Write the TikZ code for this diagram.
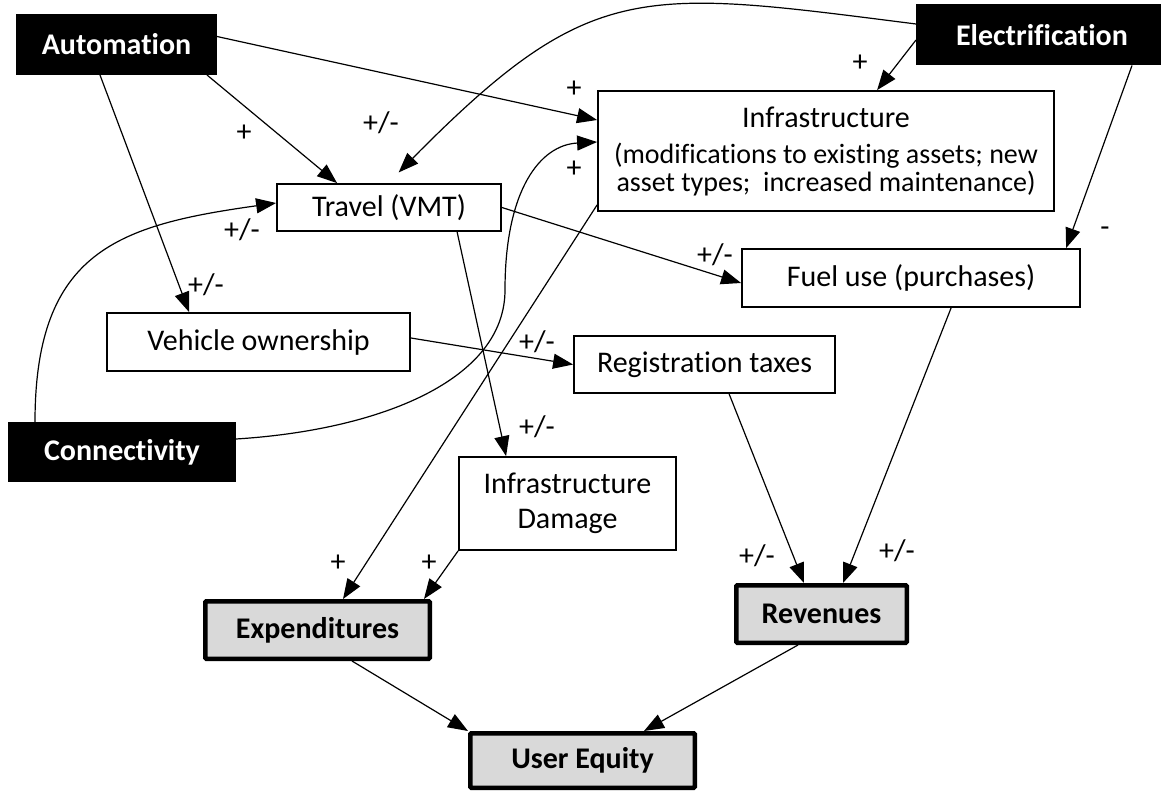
\documentclass[tikz,border=0pt]{standalone}
\usepackage{fontspec}
\setmainfont[Ligatures=NoCommon]{Carlito}
\usetikzlibrary{arrows.meta}
\definecolor{boxgray}{HTML}{D9D9D9}
\begin{document}
\begin{tikzpicture}[x=1pt,y=-1pt,
  every node/.style={inner sep=0pt, outer sep=0pt, font=\fontsize{30}{32}\selectfont},
  driver/.style={fill=black, text=white, font=\fontsize{30}{32}\selectfont\bfseries},
  var/.style={draw=black, line width=1.8pt, fill=white, align=center, outer sep=0.9pt},
  outcome/.style={draw=black, line width=4.5pt, fill=boxgray, rounded corners=1pt, outer sep=2.25pt, font=\fontsize{30}{32}\selectfont\bfseries},
  link/.style={line width=1.2pt, -{Triangle[length=20pt,width=15pt]}},
  lab/.style={font=\fontsize{30}{32}\selectfont}
]
\useasboundingbox (0,0) rectangle (1161,792);

% drivers
\node[driver, minimum width=201pt, minimum height=61pt] (auto) at (116.5,44.5) {Automation};
\node[driver, minimum width=252pt, minimum height=61pt] (elec) at (1042,35) {Electrification};
\node[driver, minimum width=228pt, minimum height=60pt] (conn) at (122,452) {Connectivity};

% variables
\node[var, minimum width=224pt, minimum height=47pt] (travel) at (389,207.5) {Travel (VMT)};
\node[var, minimum width=456pt, minimum height=120pt, font=\fontsize{28}{28}\selectfont] (infra) at (826,151)
  {{\fontsize{30}{30}\selectfont Infrastructure}\\[8pt](modifications to existing assets; new\\asset types;~ increased maintenance)};
\node[var, minimum width=338pt, minimum height=58pt] (fuel) at (911,278) {Fuel use (purchases)};
\node[var, minimum width=303pt, minimum height=58pt] (vo) at (258.5,342) {Vehicle ownership};
\node[var, minimum width=261pt, minimum height=57pt] (reg) at (704.5,364.5) {Registration taxes};
\node[var, minimum width=217pt, minimum height=93pt, font=\fontsize{30}{35}\selectfont] (dmg) at (567.5,503.5) {Infrastructure\\Damage};

% outcomes
\node[outcome, minimum width=224.5pt, minimum height=57.5pt] (exp) at (317.5,630) {Expenditures};
\node[outcome, minimum width=170.5pt, minimum height=57.5pt] (rev) at (821.5,614) {Revenues};
\node[outcome, minimum width=224.5pt, minimum height=54.5pt] (ue) at (582.5,760.5) {User Equity};

% connectors
\draw[link] ([xshift=-10pt]auto.south east) -- ([xshift=61pt]travel.north west);
\draw[link] ([yshift=8pt]auto.east) -- ([yshift=31pt]infra.west);
\draw[link] ([xshift=-16.5pt]auto.south) -- ([xshift=83pt]vo.north west);
\draw[link, shorten >=15pt] ([yshift=11pt]elec.west) .. controls (640,-11) and (591,-22) .. ([xshift=112pt]travel.north west);
\draw[link] ([xshift=27pt]conn.north west) .. controls (35,250) and (120,225) .. ([yshift=4.5pt]travel.west);
\draw[link] ([yshift=13pt]conn.east) .. controls (380,430) and (505,380) .. (505,290)
   .. controls (505,190) and (540,145) .. ([yshift=9pt]infra.west);
\draw[link] (travel.east) -- ([yshift=-5pt]fuel.west);
\draw[link] ([xshift=181pt]travel.south west) -- ([xshift=48pt]dmg.north west);
\draw[link] ([yshift=4pt]vo.east) -- (reg.west);
\draw[link] ([yshift=7pt]infra.south west) -- ([xshift=140pt]exp.north west);
\draw[link] (dmg.south west) -- ([xshift=221pt]exp.north west);
\draw[link] ([xshift=156pt]reg.south west) -- ([xshift=70pt]rev.north west);
\draw[link] ([xshift=210pt]fuel.south west) -- ([xshift=109pt]rev.north west);
\draw[link] ([xshift=149pt]exp.south west) -- (ue.north west);
\draw[link] ([xshift=64pt]rev.south west) -- ([xshift=176pt]ue.north west);
\draw[link] ([yshift=-5pt]elec.west) -- ([xshift=280pt]infra.north west);
\draw[link] ([xshift=216pt]elec.south west) -- ([xshift=325pt]fuel.north west);

% polarity labels
\node[lab] (l1) at (244,133) {+};
\node[lab] (l2) at (574,89) {+};
\node[lab] (l3) at (206,285) {+/-};
\node[lab] (l4) at (381,123) {+/-};
\node[lab] (l5) at (242,230) {+/-};
\node[lab] (l6) at (574,169) {+};
\node[lab] (l7) at (715,255) {+/-};
\node[lab] (l8) at (537,427) {+/-};
\node[lab] (l9) at (537,342) {+/-};
\node[lab] (l10) at (338,563) {+};
\node[lab] (l11) at (429,563) {+};
\node[lab] (l12) at (757,556) {+/-};
\node[lab] (l13) at (897,551) {+/-};
\node[lab] (l14) at (860,63) {+};
\node[lab] (l15) at (1105,232) {-};
\end{tikzpicture}
\end{document}
